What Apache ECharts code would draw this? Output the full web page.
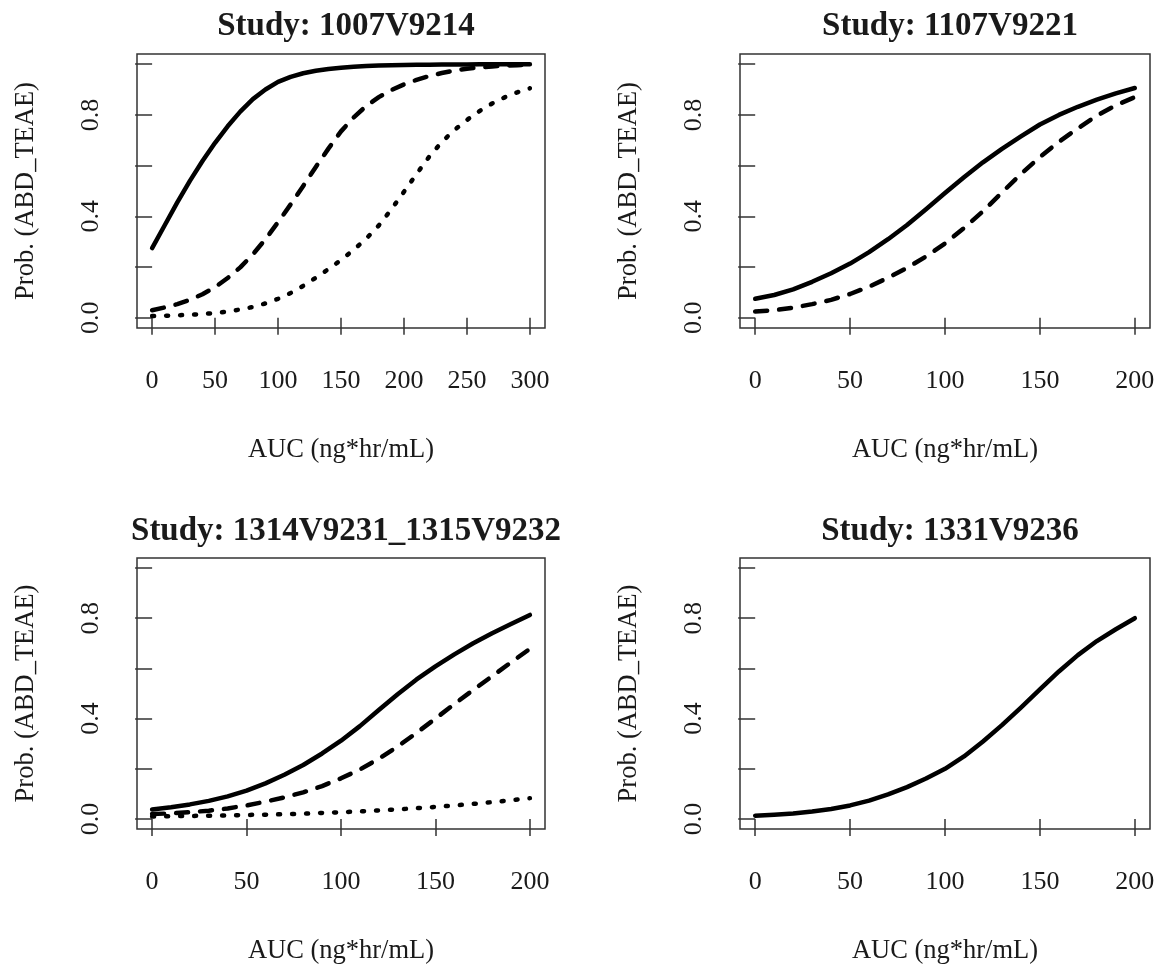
<!DOCTYPE html>
<html>
<head>
<meta charset="utf-8">
<script src="https://cdn.jsdelivr.net/npm/echarts@6/dist/echarts.min.js"></script>
<style>
  html, body { margin: 0; padding: 0; background: #ffffff; }
  #chart { width: 1161px; height: 966px; }
</style>
</head>
<body>
<div id="chart"></div>
<script>
// ---- Data ----
const titles = ['Study: 1007V9214', 'Study: 1107V9221', 'Study: 1314V9231_1315V9232', 'Study: 1331V9236'];
const xTicks300 = [0, 50, 100, 150, 200, 250, 300];
const xTicks200 = [0, 50, 100, 150, 200];
const yTicks = [0, 0.2, 0.4, 0.6, 0.8, 1.0];
const yLabelTicks = [0, 0.4, 0.8];

const auc300 = [0,10,20,30,40,50,60,70,80,90,100,110,120,130,140,150,160,170,180,190,200,210,220,230,240,250,260,270,280,290,300];
const auc200 = [0,10,20,30,40,50,60,70,80,90,100,110,120,130,140,150,160,170,180,190,200];

// Study 1007V9214
const s1Solid  = [0.275,0.365,0.455,0.54,0.618,0.69,0.755,0.813,0.862,0.9,0.93,0.95,0.964,0.974,0.981,0.986,0.99,0.993,0.995,0.996,0.997,0.998,0.998,0.999,0.999,0.999,1.0,1.0,1.0,1.0,1.0];
const s1Dashed = [0.03,0.041,0.054,0.071,0.093,0.121,0.157,0.199,0.25,0.31,0.377,0.447,0.52,0.595,0.667,0.735,0.79,0.835,0.87,0.898,0.92,0.938,0.953,0.965,0.975,0.982,0.987,0.991,0.994,0.996,0.997];
const s1Dotted = [0.007,0.008,0.01,0.012,0.015,0.019,0.025,0.033,0.043,0.057,0.075,0.098,0.126,0.158,0.192,0.228,0.268,0.312,0.364,0.428,0.497,0.567,0.635,0.693,0.74,0.78,0.815,0.845,0.869,0.889,0.905];

// Study 1107V9221
const s2Solid  = [0.075,0.09,0.112,0.142,0.176,0.214,0.259,0.31,0.366,0.428,0.492,0.554,0.613,0.666,0.715,0.762,0.8,0.832,0.86,0.885,0.906];
const s2Dashed = [0.025,0.03,0.04,0.054,0.071,0.094,0.123,0.158,0.197,0.242,0.293,0.354,0.42,0.494,0.567,0.634,0.694,0.747,0.797,0.838,0.87];

// Study 1314V9231_1315V9232
const s3Solid  = [0.038,0.047,0.058,0.072,0.09,0.113,0.142,0.176,0.215,0.261,0.312,0.37,0.434,0.497,0.556,0.608,0.656,0.7,0.74,0.777,0.813];
const s3Dashed = [0.02,0.022,0.027,0.033,0.042,0.054,0.069,0.086,0.106,0.131,0.162,0.197,0.24,0.289,0.343,0.4,0.458,0.514,0.569,0.624,0.678];
const s3Dotted = [0.01,0.011,0.012,0.013,0.014,0.016,0.017,0.019,0.021,0.024,0.027,0.03,0.034,0.038,0.043,0.048,0.054,0.06,0.067,0.075,0.083];

// Study 1331V9236
const s4Solid  = [0.013,0.017,0.022,0.03,0.04,0.054,0.073,0.098,0.127,0.161,0.2,0.249,0.309,0.374,0.444,0.516,0.588,0.653,0.709,0.756,0.8];

// ---- Chart ----
const FONT = 'Liberation Serif';
const INK = '#1a1a1a';
const AXIS = '#333333';

const chart = echarts.init(document.getElementById('chart'), null, { renderer: 'canvas' });

function pairs(xs, ys) { return xs.map((x, i) => [x, ys[i]]); }

const gridPos = [
  { left: 137, top: 54, width: 408, height: 274 },
  { left: 740, top: 54, width: 410, height: 274 },
  { left: 137, top: 558, width: 408, height: 274 },
  { left: 740, top: 558, width: 410, height: 274 }
];

const grids = gridPos.map(g => Object.assign({
  show: true, borderColor: AXIS, borderWidth: 1.5, backgroundColor: '#ffffff', containLabel: false
}, g));

const xTickSets = [xTicks300, xTicks200, xTicks200, xTicks200];
const xRanges = [[-12, 312], [-8, 208], [-8, 208], [-8, 208]];

const xAxes = xTickSets.map((ticks, i) => ({
  type: 'value', gridIndex: i, min: xRanges[i][0], max: xRanges[i][1],
  axisLine: { show: false },
  splitLine: { show: false },
  axisTick: { show: true, length: 17, inside: false, customValues: ticks, lineStyle: { color: AXIS, width: 1.5 } },
  axisLabel: { customValues: ticks, margin: 40, color: INK, fontFamily: FONT, fontSize: 26 },
  name: 'AUC (ng*hr/mL)', nameLocation: 'middle', nameGap: 109,
  nameTextStyle: { color: INK, fontFamily: FONT, fontSize: 26.5 }
}));

const yAxes = [0, 1, 2, 3].map(i => ({
  type: 'value', gridIndex: i, min: -0.04, max: 1.04,
  axisLine: { show: false },
  splitLine: { show: false },
  axisTick: { show: true, length: 17, inside: false, customValues: yTicks, lineStyle: { color: AXIS, width: 1.5 } },
  axisLabel: { customValues: yLabelTicks, rotate: 90, margin: 33, color: INK, fontFamily: FONT, fontSize: 26,
    formatter: v => Number(v).toFixed(1) },
  name: 'Prob. (ABD_TEAE)', nameLocation: 'middle', nameRotate: 90, nameGap: 97,
  nameTextStyle: { color: INK, fontFamily: FONT, fontSize: 26.5 }
}));

const titleCenters = [
  { x: 341, y: 5 }, { x: 945, y: 5 }, { x: 341, y: 510 }, { x: 945, y: 510 }
];
const titleComps = titles.map((t, i) => ({
  text: t, left: titleCenters[i].x, top: titleCenters[i].y, textAlign: 'center',
  textStyle: { fontFamily: FONT, fontWeight: 'bold', fontSize: 33, color: INK }
}));

const styles = {
  solid:  { color: '#000', width: 4.5, type: 'solid', cap: 'round', join: 'round' },
  dashed: { color: '#000', width: 4.5, type: [12, 12], cap: 'round', join: 'round' },
  dotted: { color: '#000', width: 4.5, type: [2, 12], cap: 'round', join: 'round' }
};

function line(idx, xs, ys, kind) {
  return {
    type: 'line', xAxisIndex: idx, yAxisIndex: idx,
    data: pairs(xs, ys), showSymbol: false, symbol: 'none',
    smooth: false, silent: true, animation: false,
    lineStyle: styles[kind]
  };
}

const series = [
  line(0, auc300, s1Solid, 'solid'),
  line(0, auc300, s1Dashed, 'dashed'),
  line(0, auc300, s1Dotted, 'dotted'),
  line(1, auc200, s2Solid, 'solid'),
  line(1, auc200, s2Dashed, 'dashed'),
  line(2, auc200, s3Solid, 'solid'),
  line(2, auc200, s3Dashed, 'dashed'),
  line(2, auc200, s3Dotted, 'dotted'),
  line(3, auc200, s4Solid, 'solid')
];

chart.setOption({
  backgroundColor: '#ffffff',
  animation: false,
  title: titleComps,
  grid: grids,
  xAxis: xAxes,
  yAxis: yAxes,
  series: series
});
</script>
</body>
</html>
